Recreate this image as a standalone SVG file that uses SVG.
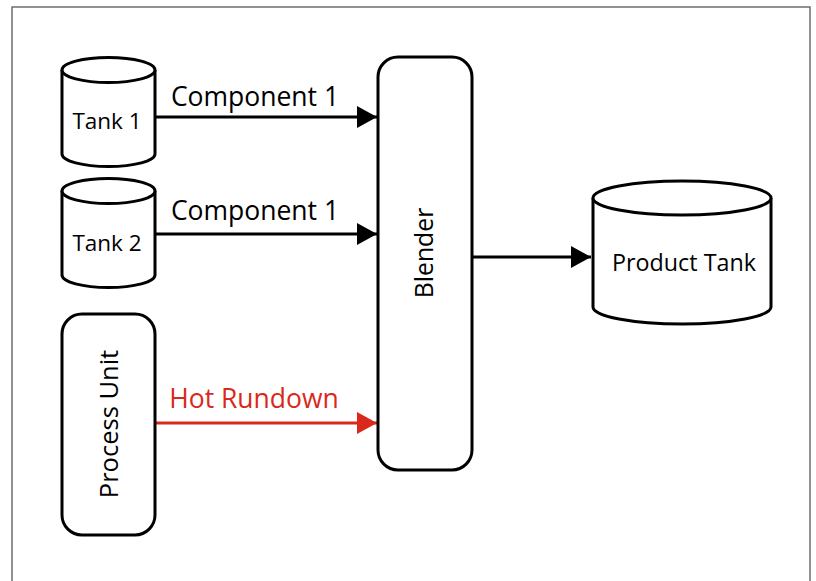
<svg xmlns="http://www.w3.org/2000/svg" width="816" height="581" viewBox="0 0 816 581">
<defs>
<style>
.shape{fill:#fff;stroke:#000;stroke-width:3}
.lbl{font-family:"Open Sans","Noto Sans",sans-serif;fill:#000}
.edge{stroke:#000;stroke-width:3;fill:none}
.red{stroke:#d9291c}
</style>
<marker id="ah" markerWidth="20" markerHeight="22" refX="20" refY="11" orient="auto" markerUnits="userSpaceOnUse"><path d="M0,0 L20,11 L0,22 Z" fill="#000"/></marker>
<marker id="ahr" markerWidth="20" markerHeight="22" refX="20" refY="11" orient="auto" markerUnits="userSpaceOnUse"><path d="M0,0 L20,11 L0,22 Z" fill="#d9291c"/></marker>
</defs>
<rect x="12" y="7" width="798" height="590" fill="#fff" stroke="#6e6e6e" stroke-width="1.5"/>
<g id="connectors">
<line class="edge" x1="155" y1="117" x2="377" y2="117" marker-end="url(#ah)"/>
<text class="lbl" x="255" y="106" font-size="26.5" text-anchor="middle">Component 1</text>
<line class="edge" x1="155" y1="234" x2="377" y2="234" marker-end="url(#ah)"/>
<text class="lbl" x="255" y="220" font-size="26.5" text-anchor="middle">Component 1</text>
<line class="edge red" x1="155" y1="423" x2="377" y2="423" marker-end="url(#ahr)"/>
<text class="lbl" x="254" y="408" font-size="26.5" text-anchor="middle" style="fill:#d9291c">Hot Rundown</text>
<line class="edge" x1="472" y1="257" x2="591" y2="257" marker-end="url(#ah)"/>
</g>
<g id="tank1">
<path class="shape" d="M62,70 A46.5,12.5 0 0 1 155,70 L155,154 A46.5,12.5 0 0 1 62,154 Z"/>
<path class="shape" d="M62,70 A46.5,12.5 0 0 0 155,70" fill="none"/>
<text class="lbl" x="107" y="129" font-size="22.5" text-anchor="middle">Tank 1</text>
</g>
<g id="tank2">
<path class="shape" d="M62,191 A46.5,12.5 0 0 1 155,191 L155,275 A46.5,12.5 0 0 1 62,275 Z"/>
<path class="shape" d="M62,191 A46.5,12.5 0 0 0 155,191" fill="none"/>
<text class="lbl" x="107" y="251" font-size="22.5" text-anchor="middle">Tank 2</text>
</g>
<g id="process-unit">
<rect class="shape" x="62" y="314" width="93" height="221" rx="20"/>
<text class="lbl" transform="translate(118,424) rotate(-90)" font-size="25.5" text-anchor="middle">Process Unit</text>
</g>
<g id="blender">
<rect class="shape" x="378" y="57" width="94" height="413" rx="20"/>
<text class="lbl" transform="translate(433,253) rotate(-90)" font-size="24.8" text-anchor="middle">Blender</text>
</g>
<g id="product-tank">
<path class="shape" d="M593,198 A89,17 0 0 1 771,198 L771,307 A89,17 0 0 1 593,307 Z"/>
<path class="shape" d="M593,198 A89,17 0 0 0 771,198" fill="none"/>
<text class="lbl" x="684" y="271" font-size="23.3" text-anchor="middle">Product Tank</text>
</g>
</svg>
